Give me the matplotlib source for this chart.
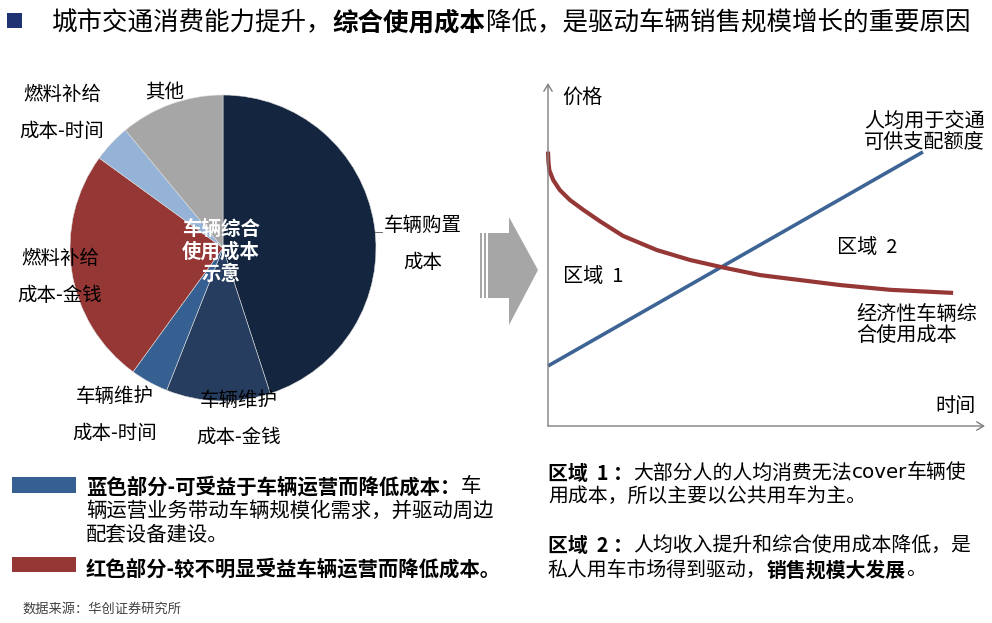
import matplotlib
matplotlib.use("Agg")
import matplotlib.pyplot as plt
from matplotlib.patches import Polygon, Rectangle

plt.rcParams['font.family'] = ['Noto Sans CJK SC', 'DejaVu Sans']

W, H = 992, 623
FONT = ['Noto Sans CJK SC', 'DejaVu Sans']

# ---------------- data ----------------
pie_labels = ["车辆购置\n成本", "车辆维护\n成本-金钱", "车辆维护\n成本-时间",
              "燃料补给\n成本-金钱", "燃料补给\n成本-时间", "其他"]
pie_values = [45, 11, 4, 25, 4, 11]
pie_colors = ['#13253F', '#263D5F', '#376092', '#953735', '#95B3D7', '#A6A6A6']

# economic vehicle combined usage cost (red curve), time vs price
cost_x = [0, 0.1, 0.3, 1.2, 2.7, 5.0, 8.1, 12.0, 17.2, 24.9, 32.5, 39.4, 48.5, 66.8, 78.3, 92.7]
cost_y = [80, 77.1, 74.6, 71.7, 68.8, 65.9, 63.0, 59.6, 55.4, 51.3, 48.4, 46.4, 44.0, 41.1, 39.7, 38.8]
# disposable income per capita for transport (blue line)
income_x = [0, 85.8]
income_y = [17.5, 79.9]

fig = plt.figure(figsize=(W / 100, H / 100), dpi=100)
fig.patch.set_facecolor('white')


def P(x, y):
    return x / W, 1 - y / H


def seg_text(x_px, y_px, segments, size):
    renderer = fig.canvas.get_renderer()
    x = x_px
    for seg in segments:
        s, bold = seg[0], seg[1]
        fam = seg[2] if len(seg) > 2 else FONT
        t = fig.text(*P(x, y_px), s, fontsize=size, family=fam,
                     fontweight='bold' if bold else 'normal',
                     va='center', ha='left', color='black')
        bb = t.get_window_extent(renderer)
        x += bb.width


# ---------------- title ----------------
fig.patches.append(Rectangle(P(7, 28), 15 / W, 15 / H, transform=fig.transFigure,
                             facecolor='#1F3372', edgecolor='none'))
seg_text(52, 23, [("城市交通消费能力提升，", False), ("综合使用成本", True),
                  ("降低，是驱动车辆销售规模增长的重要原因", False)], 18.4)

# ---------------- pie ----------------
cx, cy, r = 223, 248, 153
axp = fig.add_axes([(cx - r) / W, (H - cy - r) / H, 2 * r / W, 2 * r / H])
axp.pie(pie_values, colors=pie_colors, startangle=90, counterclock=False,
        radius=1, wedgeprops=dict(edgecolor='#dddddd', linewidth=0.4))
axp.set_xlim(-1, 1)
axp.set_ylim(-1, 1)
axp.set_aspect('auto')
axp.axis('off')

label_pos = [(423, 244), (239, 419), (115, 415), (60, 277), (62, 113), (165, 93)]
for lab, (lx, ly) in zip(pie_labels, label_pos):
    fig.text(*P(lx, ly), lab, fontsize=14, ha='center', va='center',
             linespacing=1.95, color='black')
# leader line for 车辆购置
fig.add_artist(plt.Line2D([375 / W, 382 / W], [1 - 232 / H, 1 - 232 / H],
                          transform=fig.transFigure, color='#555555', lw=0.6))
fig.text(*P(221, 252), "车辆综合\n使用成本\n示意", fontsize=14, fontweight='bold',
         color='white', ha='center', va='center', linespacing=1.2)

# ---------------- middle arrow ----------------
arrow_pts = [(488, 233), (509, 233), (509, 217), (538, 270), (509, 325), (509, 298), (488, 298)]
fig.patches.append(Polygon([P(x, y) for x, y in arrow_pts], closed=True,
                           transform=fig.transFigure, facecolor='#A6A6A6', edgecolor='none'))
for x0, w in [(480, 2), (483.5, 2.5)]:
    fig.patches.append(Rectangle(P(x0, 298), w / W, 65 / H, transform=fig.transFigure,
                                 facecolor='#A6A6A6', edgecolor='none'))

# ---------------- line chart ----------------
x0, x1, y0, y1 = 548, 985, 83, 426
axl = fig.add_axes([x0 / W, (H - y1) / H, (x1 - x0) / W, (y1 - y0) / H])
axl.set_xlim(0, 100)
axl.set_ylim(0, 100)
for s in axl.spines.values():
    s.set_visible(False)
axl.set_xticks([])
axl.set_yticks([])
axl.patch.set_alpha(0)
axl.annotate('', xy=(0, 1), xytext=(0, 0), xycoords='axes fraction',
             arrowprops=dict(arrowstyle='->,head_length=0.5,head_width=0.3', color='#7F7F7F', lw=1,
                             shrinkA=0, shrinkB=0))
axl.annotate('', xy=(1, 0), xytext=(0, 0), xycoords='axes fraction',
             arrowprops=dict(arrowstyle='->,head_length=0.5,head_width=0.3', color='#7F7F7F', lw=1,
                             shrinkA=0, shrinkB=0))
axl.plot(income_x, income_y, color='#3D6495', lw=2.6, solid_capstyle='butt', clip_on=False)
axl.plot(cost_x, cost_y, color='#953735', lw=3.0, solid_capstyle='butt',
         solid_joinstyle='round', clip_on=False)

fig.text(*P(562, 97), "价格", fontsize=14.5, ha='left', va='center')
fig.text(*P(864, 132), "人均用于交通\n可供支配额度", fontsize=14.5, ha='left', va='center',
         linespacing=1.05)
fig.text(*P(563, 277), "区域  1", fontsize=14.5, ha='left', va='center')
fig.text(*P(837, 248), "区域  2", fontsize=14.5, ha='left', va='center')
fig.text(*P(856, 325), "经济性车辆综\n合使用成本", fontsize=14.5, ha='left', va='center',
         linespacing=1.05)
fig.text(*P(935, 406), "时间", fontsize=14.5, ha='left', va='center')

# ---------------- bottom-left notes ----------------
fig.patches.append(Rectangle(P(12, 493), 64 / W, 16 / H, transform=fig.transFigure,
                             facecolor='#376092', edgecolor='none'))
fig.patches.append(Rectangle(P(12, 572), 64 / W, 15 / H, transform=fig.transFigure,
                             facecolor='#953735', edgecolor='none'))
seg_text(86, 487, [("蓝色部分-可受益于车辆运营而降低成本：", True), ("车", False)], 14.7)
seg_text(86, 511, [("辆运营业务带动车辆规模化需求，并驱动周边", False)], 14.7)
seg_text(86, 535, [("配套设备建设。", False)], 14.7)
seg_text(86, 569, [("红色部分-较不明显受益车辆运营而降低成本。", True)], 14.7)
fig.text(*P(22, 609), "数据来源：华创证券研究所", fontsize=9.5, style='italic',
         color='#404040', ha='left', va='center')

# ---------------- bottom-right notes ----------------
seg_text(548, 473, [("区域  1 ：", True), ("大部分人的人均消费无法", False),
                    ("cover", False, ['DejaVu Sans']), ("车辆使", False)], 14.3)
seg_text(548, 497, [("用成本，所以主要以公共用车为主。", False)], 14.3)
seg_text(548, 545, [("区域  2 ：", True), ("人均收入提升和综合使用成本降低，是", False)], 14.3)
seg_text(548, 570, [("私人用车市场得到驱动，", False), ("销售规模大发展", True), ("。", False)], 14.3)

fig.savefig("out.png", dpi=100)
